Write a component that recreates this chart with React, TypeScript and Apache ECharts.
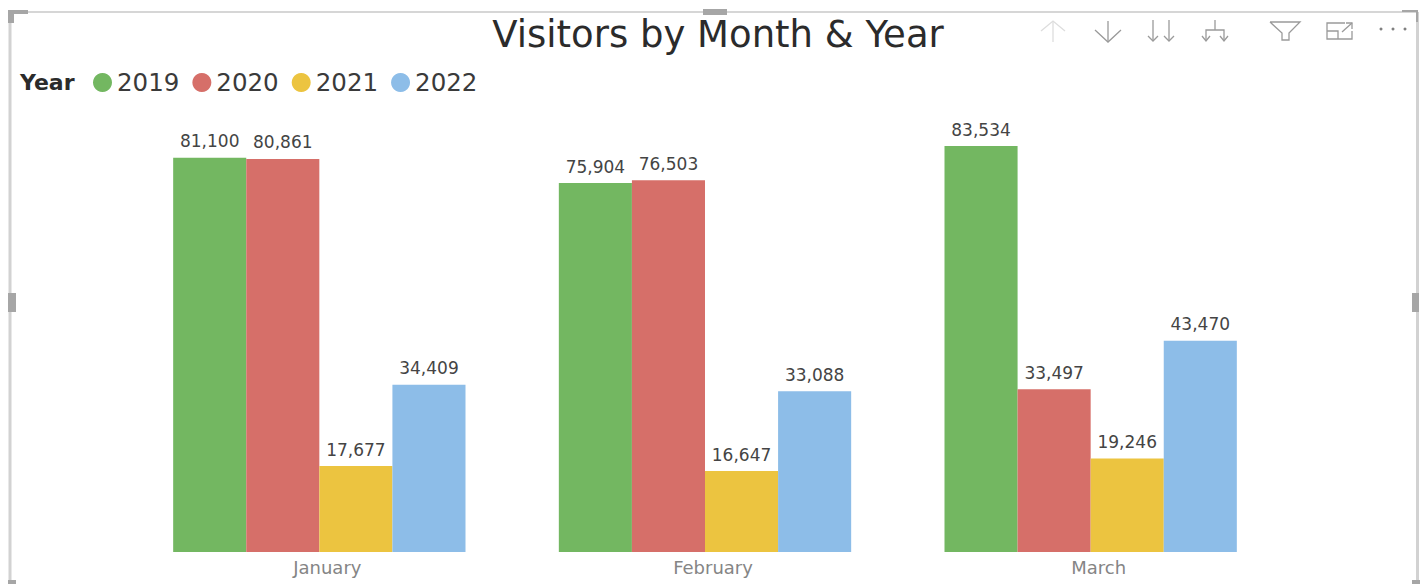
import React, { useEffect, useRef } from "react";
import * as echarts from "echarts";

const months = ["January", "February", "March"];
const years = ["2019", "2020", "2021", "2022"];
const values2019 = [81100, 75904, 83534];
const values2020 = [80861, 76503, 33497];
const values2021 = [17677, 16647, 19246];
const values2022 = [34409, 33088, 43470];
const colors = ["#73B761", "#D66F69", "#ECC440", "#8DBDE8"];
const seriesValues = [values2019, values2020, values2021, values2022];

const line = (x1: number, y1: number, x2: number, y2: number, stroke = "#9a9a9a", lineWidth = 1.3) => ({
  type: "line", shape: { x1, y1, x2, y2 }, style: { stroke, lineWidth }, silent: true,
});
const poly = (points: number[][], stroke = "#9a9a9a", lineWidth = 1.3) => ({
  type: "polyline", shape: { points }, style: { stroke, lineWidth, fill: "none" }, silent: true,
});
const handle = (x: number, y: number, width: number, height: number) => ({
  type: "rect", shape: { x, y, width, height }, style: { fill: "#a6a6a6" }, silent: true,
});

export default function App() {
  const ref = useRef<HTMLDivElement>(null);
  useEffect(() => {
    const chart = echarts.init(ref.current!, undefined, { renderer: "svg" });
    chart.setOption({
      animation: false,
      backgroundColor: "#ffffff",
      title: {
        text: "Visitors by Month & Year",
        left: 713, top: 11, textAlign: "center",
        textStyle: { fontFamily: "DejaVu Sans", fontSize: 37, fontWeight: "normal", color: "#2b2b2b" },
      },
      legend: {
        data: years, left: 88, top: 65, icon: "circle", itemWidth: 19, itemHeight: 19, itemGap: 13,
        textStyle: { fontFamily: "DejaVu Sans", fontSize: 24.5, color: "#3a3a3a" },
      },
      grid: { left: 126.5, right: 142.5, top: 100, bottom: 32 },
      xAxis: {
        type: "category", data: months,
        axisLine: { show: false }, axisTick: { show: false },
        axisLabel: { fontFamily: "DejaVu Sans", fontSize: 18, color: "#858585", margin: 6, padding: [0, 0, 0, 16] },
      },
      yAxis: { type: "value", min: 0, max: 93000, show: false, splitLine: { show: false } },
      graphic: [
        { type: "text", x: 20, y: 71, style: { text: "Year", fontFamily: "DejaVu Sans", fontSize: 22, fontWeight: "bold", fill: "#2b2b2b" }, silent: true },
        line(10, 12, 1417, 12, "#d6d6d6", 2),
        line(10, 12, 10, 584, "#d2d2d2", 3),
        line(1417.5, 12, 1417.5, 584, "#d2d2d2", 3),
        handle(8, 10, 20, 4), handle(8, 10, 6, 13),
        handle(703, 9, 24, 6),
        handle(8, 293, 8, 19), handle(1412, 293, 7, 19),
        handle(8, 580, 8, 4), handle(1412, 580, 8, 4),
        poly([[1402, 11], [1417, 11], [1417, 22]], "#a6a6a6", 2),
        // toolbar
        line(1053, 22, 1053, 42, "#dddddd"), poly([[1041, 31], [1053, 21], [1065, 31]], "#dddddd"),
        line(1108, 21, 1108, 41), poly([[1095, 30], [1108, 42], [1121, 30]]),
        line(1153, 20, 1153, 41), poly([[1148, 36], [1153, 41], [1158, 36]]),
        line(1169, 20, 1169, 41), poly([[1164, 36], [1169, 41], [1174, 36]]),
        line(1215, 20, 1215, 30), poly([[1206, 41], [1206, 30], [1224, 30], [1224, 41]]),
        poly([[1202, 36], [1206, 41], [1210, 36]]), poly([[1220, 36], [1224, 41], [1228, 36]]),
        poly([[1270, 22], [1300, 22], [1289, 33], [1289, 40], [1282, 40], [1282, 33], [1270, 22]]),
        poly([[1345, 23], [1327, 23], [1327, 39], [1352, 39], [1352, 31]]),
        poly([[1327, 31], [1338, 31], [1338, 39]]),
        line(1342, 32, 1352, 23), poly([[1346, 23], [1352, 23], [1352, 29]]),
        { type: "circle", shape: { cx: 1381, cy: 29, r: 1.5 }, style: { fill: "#808080" }, silent: true },
        { type: "circle", shape: { cx: 1393, cy: 29, r: 1.5 }, style: { fill: "#808080" }, silent: true },
        { type: "circle", shape: { cx: 1405, cy: 29, r: 1.5 }, style: { fill: "#808080" }, silent: true },
      ],
      series: years.map((name, i) => ({
        name, type: "bar", data: seriesValues[i], barGap: 0, barCategoryGap: "24.2%",
        itemStyle: { color: colors[i] },
        label: {
          show: true, position: "top", distance: 8,
          fontFamily: "DejaVu Sans", fontSize: 17, color: "#444444",
          formatter: (p: any) => Number(p.value).toLocaleString("en-US"),
        },
      })),
    });
    return () => chart.dispose();
  }, []);
  return <div ref={ref} style={{ position: "fixed", left: 0, top: 0, width: 1426, height: 584 }} />;
}
